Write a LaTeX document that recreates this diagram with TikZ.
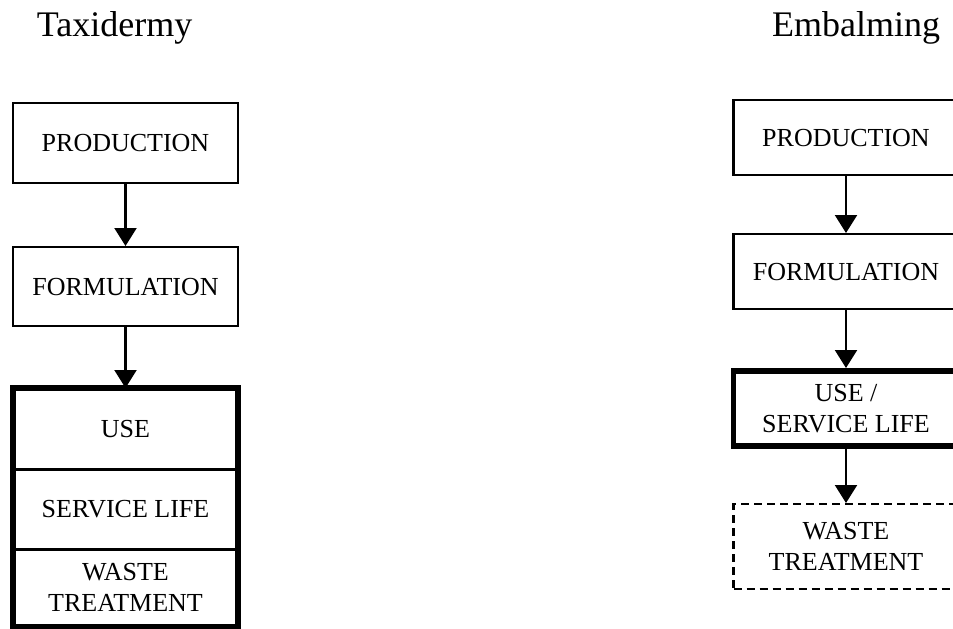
\documentclass[tikz,border=0pt]{standalone}
\usepackage{fontspec}
\setmainfont{Liberation Serif}
\usetikzlibrary{arrows.meta}
\tikzset{
  box/.style={draw, line width=2.2pt, rectangle, inner sep=0pt, minimum width=225pt, anchor=north, align=center, font=\fontsize{26}{31}\selectfont},
  cell/.style={rectangle, inner sep=0pt, minimum width=225pt, anchor=north, align=center, font=\fontsize{26}{31}\selectfont},
  thickbox/.style={line width=5.5pt},
  divider/.style={line width=2.2pt},
  dashbox/.style={box, dash pattern=on 8pt off 5pt},
  arr/.style={line width=2.2pt, -{Triangle[width=22pt,length=18pt]}},
  title/.style={font=\fontsize{36}{40}\selectfont, anchor=base}
}
\begin{document}
\begin{tikzpicture}[x=1pt,y=-1pt]
\useasboundingbox (0,0) rectangle (953,629);
\clip (0,0) rectangle (953,629);
% titles
\node[title] (tTax) at (114.5,36) {Taxidermy};
\node[title] (tEmb) at (856,36) {Embalming};
% left column
\node[box, minimum height=80pt] (prodL) at (125.5,102) {PRODUCTION};
\node[box, minimum height=79pt] (formL) at (125.5,246) {FORMULATION};
\node[cell, minimum height=81pt] (useL) at (125.5,388) {USE};
\node[cell, minimum height=80pt] (servL) at (125.5,469) {SERVICE LIFE};
\node[cell, minimum height=77pt] (wasteL) at (125.5,549) {WASTE\\TREATMENT};
\draw[divider] (useL.south west) -- (useL.south east);
\draw[divider] (servL.south west) -- (servL.south east);
\draw[thickbox] (useL.north west) rectangle (wasteL.south east);
\draw[arr] (prodL.south) -- (formL.north);
\draw[arr] (formL.south) -- (useL.north);
% right column
\node[box, minimum height=75pt] (prodR) at (846,99) {PRODUCTION};
\node[box, minimum height=75pt] (formR) at (846,233) {FORMULATION};
\node[box, thickbox, minimum height=75pt] (useR) at (846,368) {USE /\\SERVICE LIFE};
\node[dashbox, minimum height=85pt] (wasteR) at (846,503) {WASTE\\TREATMENT};
\draw[arr] (prodR.south) -- (formR.north);
\draw[arr] (formR.south) -- (useR.north);
\draw[arr] (useR.south) -- (wasteR.north);
\end{tikzpicture}
\end{document}
